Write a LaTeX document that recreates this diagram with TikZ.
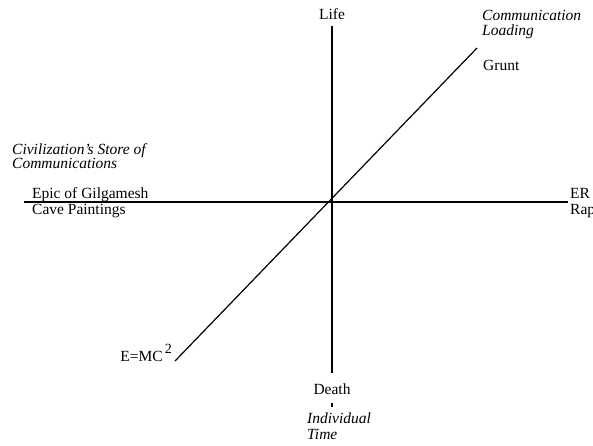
\documentclass[tikz,border=0pt]{standalone}
\usepackage{fontspec}
\setmainfont{Liberation Serif}
\begin{document}
\begin{tikzpicture}[
x=1pt,
y=-1pt,
axis/.style={line width=1.2pt},
lbl/.style={inner sep=0pt, font=\fontsize{15.5}{15.5}\selectfont},
ital/.style={inner sep=0pt, align=left, font=\fontsize{15.5}{15.5}\selectfont\itshape},
]

	\useasboundingbox (0,0) rectangle (593,445);

	%%%%%%%%%%%%%%%%%%%%%%%%%%%%
	%Achsen
	%%%%%%%%%%%%%%%%%%%%%%%%%%%%

	\coordinate (lifeEnd) at (332,26);
	\coordinate (deathEnd) at (332,373);
	\coordinate (storeEnd) at (24,202);
	\coordinate (erEnd) at (568,202);
	\coordinate (emcEnd) at (175,361);
	\coordinate (gruntEnd) at (477,48);
	\coordinate (tickTop) at (332,403);
	\coordinate (tickBot) at (332,407);

	\draw [axis] (lifeEnd) -- (deathEnd);
	\draw [axis] (storeEnd) -- (erEnd);
	\draw [axis] (emcEnd) -- (gruntEnd);
	\draw [axis] (tickTop) -- (tickBot);

	%%%%%%%%%%%%%%%%%%%%%%%%%%%%
	%Beschriftung
	%%%%%%%%%%%%%%%%%%%%%%%%%%%%

	\node [lbl, anchor=base] (life) at (332,19) {Life};
	\node [lbl, anchor=base] (death) at (332,394) {Death};
	\node [ital, anchor=north west] (indtime) at (307,413) {Individual\\Time};

	\node [ital, anchor=north west] (commload) at (482,10) {Communication\\Loading};
	\node [lbl, anchor=base west] (grunt) at (483,70) {Grunt};

	\node [ital, anchor=north west] (store) at (12,143) {Civilization's Store of\\[-1pt]Communications};
	\node [lbl, anchor=base west] (epic) at (32,198) {Epic of Gilgamesh};
	\node [lbl, anchor=base west] (cave) at (32,214) {Cave Paintings};

	\node [lbl, anchor=base west] (er) at (570,198) {ER};
	\node [lbl, anchor=base west] (rap) at (570,214) {Rap};

	\node [lbl, anchor=base east] (emc) at (172,361) {E=MC\hspace{2pt}\raisebox{8pt}{\fontsize{14}{14}\selectfont 2}};

\end{tikzpicture}
\end{document}
